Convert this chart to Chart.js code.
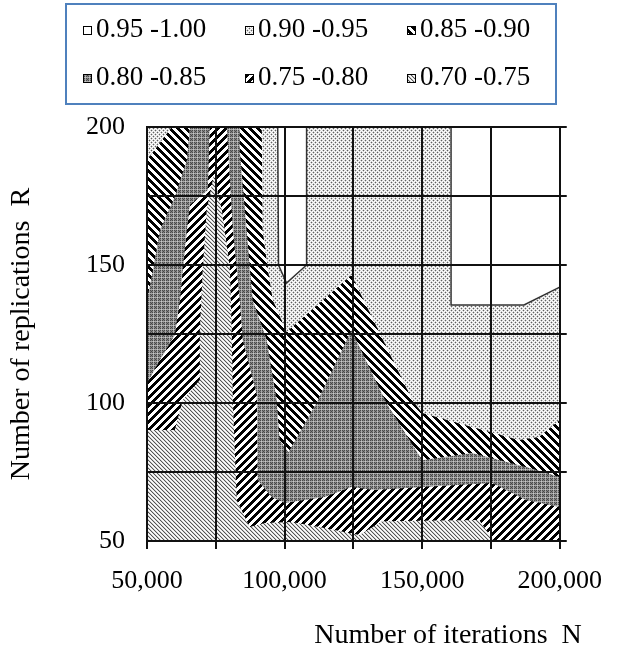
<!DOCTYPE html>
<html>
<head>
<meta charset="utf-8">
<script src="https://cdn.jsdelivr.net/npm/chart.js@4/dist/chart.umd.min.js"></script>
<style>
  html, body { margin: 0; padding: 0; background: #ffffff; }
  #c { display: block; }
</style>
</head>
<body>
<canvas id="c" width="619" height="662"></canvas>
<script>
// Coverage bands, highest first (legend order)
const bandLabels = ['0.95 -1.00', '0.90 -0.95', '0.85 -0.90', '0.80 -0.85', '0.75 -0.80', '0.70 -0.75'];

// Labelled ticks; grid lines fall every 25,000 iterations and every 25 replications
const iterationTicks = [50000, 100000, 150000, 200000];
const replicationTicks = [50, 100, 150, 200];

// Contour outlines, vertices given as [iterations N, replications R]
const domain = [[50000, 50], [200000, 50], [200000, 200], [50000, 200]];

// coverage below 0.80
const below080 = [
  [72800, 200], [79000, 200], [81200, 162.7], [83700, 137.3], [84800, 122.8],
  [89900, 102.9], [90200, 72.1], [95300, 65.9], [100000, 63.8], [114500, 65.9],
  [124300, 69.6], [132600, 68.5], [150000, 69.6], [175400, 71.0], [187700, 64.9],
  [200000, 62.3], [200000, 50], [50000, 50], [50000, 107.2], [54700, 115.6],
  [60100, 124.6], [62000, 137.3], [63000, 148.2], [64500, 162.7], [65600, 171.7],
  [72100, 177.2]
];

// coverage below 0.75
const below075 = [
  [74300, 182.6], [77200, 169.9], [80100, 149.3], [80800, 126.4], [81200, 101.1],
  [82600, 64.9], [87300, 55.1], [92800, 56.5], [102500, 56.9], [114500, 54.7],
  [127200, 52.2], [135500, 57.2], [170700, 57.6], [176100, 50], [50000, 50],
  [50000, 90.2], [60100, 90.2], [63000, 101.1], [69200, 108.3], [69200, 126.4],
  [70300, 149.3], [71700, 169.9]
];

// coverage of 0.85 and above
const above085West = [
  [50000, 200], [65600, 200], [64500, 188.0], [60100, 174.6], [54700, 162.7],
  [52200, 148.2], [50000, 137.3]
];
const above085East = [
  [83700, 200], [200000, 200], [200000, 73.2], [187700, 76.8], [168100, 81.9],
  [150000, 79.3], [137000, 100.0], [124300, 126.4], [111600, 100.0], [101400, 82.2],
  [98200, 86.6], [97100, 101.1], [93500, 122.8], [88400, 137.3], [86200, 162.7],
  [83700, 191.7]
];

// coverage of 0.90 and above
const above090West = [[50000, 200], [59000, 200], [50000, 188.0]];
const above090East = [
  [91700, 200], [200000, 200], [200000, 93.8], [192400, 87.7], [185100, 86.6],
  [168100, 91.3], [150000, 96.4], [146400, 101.1], [124300, 146.4], [100700, 125.7],
  [95700, 137.3], [93800, 149.3], [92000, 162.7]
];

// coverage of 0.95 and above
const above095Mid = [[97500, 200], [108000, 200], [108000, 150], [100700, 143.5], [97800, 150]];
const above095East = [[160500, 200], [200000, 200], [200000, 142.0], [187000, 135.5], [160500, 135.5]];

// ---------- fill patterns ----------
const canvas = document.getElementById('c');
const ctx = canvas.getContext('2d');

function makePattern(size, colorAt) {
  const tile = document.createElement('canvas');
  tile.width = size; tile.height = size;
  const t = tile.getContext('2d');
  for (let y = 0; y < size; y++) {
    for (let x = 0; x < size; x++) {
      t.fillStyle = colorAt(x, y);
      t.fillRect(x, y, 1, 1);
    }
  }
  return ctx.createPattern(tile, 'repeat');
}

const fills = [
  '#ffffff',
  // sparse dots
  makePattern(4, (x, y) => {
    if ((x === 1 && y === 0) || (x === 3 && y === 2)) return '#606060';
    return (x + y) % 2 === 0 ? '#d0d0d0' : '#ffffff';
  }),
  // wide back-slash stripes
  makePattern(8, (x, y) => ((((x - y) % 8) + 8) % 8 < 4 ? '#000000' : '#ffffff')),
  // dark plaid
  makePattern(4, (x, y) => {
    if (x === 1 && y === 1) return '#c8c8c8';
    if (x === 1 || y === 1) return '#a8a8a8';
    return (x + y) % 2 === 0 ? '#4a4a4a' : '#808080';
  }),
  // wide forward-slash stripes
  makePattern(8, (x, y) => ((x + y) % 8 < 4 ? '#000000' : '#ffffff')),
  // fine back-slash hatch
  makePattern(4, (x, y) => ['#555555', '#cccccc', '#ffffff', '#e6e6e6'][(((x - y) % 4) + 4) % 4])
];

function toPoints(outline) {
  const pts = outline.map(([n, r]) => ({ x: n, y: r }));
  pts.push({ x: outline[0][0], y: outline[0][1] });
  return pts;
}

function region(outline, band, order, edge) {
  return {
    label: bandLabels[band],
    data: toPoints(outline),
    showLine: true,
    fill: 'shape',
    tension: 0,
    pointRadius: 0,
    borderWidth: edge ? 1.5 : 0,
    borderColor: edge ? '#333333' : 'rgba(0,0,0,0)',
    backgroundColor: fills[band],
    order: order
  };
}

const datasets = [
  region(domain, 3, 6),
  region(below080, 4, 5),
  region(below075, 5, 4),
  region(above085West, 2, 3),
  region(above085East, 2, 3),
  region(above090West, 1, 2),
  region(above090East, 1, 2),
  region(above095Mid, 0, 1, true),
  region(above095East, 0, 1, true)
];

// ---------- legend and axis titles ----------
const serif = '"Liberation Serif", "Times New Roman", serif';

const bandLegend = {
  id: 'bandLegend',
  afterDraw(chart) {
    const c = chart.ctx;
    c.save();
    c.strokeStyle = '#4F81BD';
    c.lineWidth = 2;
    c.strokeRect(66, 4, 490, 100);
    c.font = '27px ' + serif;
    c.textBaseline = 'middle';
    c.textAlign = 'left';
    bandLabels.forEach((label, i) => {
      const col = i % 3, row = Math.floor(i / 3);
      const x = 83 + col * 162;
      const y = row === 0 ? 30 : 78;
      c.fillStyle = fills[i];
      c.fillRect(x, y - 4, 9, 9);
      c.strokeStyle = '#000000';
      c.lineWidth = 1;
      c.strokeRect(x + 0.5, y - 3.5, 8, 8);
      c.fillStyle = '#000000';
      c.fillText(label, x + 13, y);
    });
    c.restore();
  }
};

const axisTitles = {
  id: 'axisTitles',
  afterDraw(chart) {
    const c = chart.ctx;
    const a = chart.chartArea;
    c.save();
    c.font = '28px ' + serif;
    c.fillStyle = '#000000';
    c.textBaseline = 'middle';
    c.textAlign = 'right';
    c.fillText('Number of iterations  N', a.right + 22, 636);
    c.translate(22, (a.top + a.bottom) / 2);
    c.rotate(-Math.PI / 2);
    c.textAlign = 'center';
    c.fillText('Number of replications  R', 0, 0);
    c.restore();
  }
};

Chart.defaults.font.family = serif;
Chart.defaults.font.size = 26;
Chart.defaults.color = '#000000';

new Chart(canvas, {
  type: 'scatter',
  data: { datasets },
  options: {
    responsive: false,
    devicePixelRatio: 1,
    animation: false,
    events: [],
    layout: { padding: { top: 127, left: 0, right: 0, bottom: 0 } },
    plugins: {
      legend: { display: false },
      tooltip: { enabled: false },
      filler: { drawTime: 'beforeDatasetDraw' }
    },
    scales: {
      x: {
        type: 'linear',
        position: 'bottom',
        min: 50000,
        max: 200000,
        afterFit: (s) => { s.height = 121; },
        ticks: {
          stepSize: 25000,
          padding: 17,
          maxRotation: 0,
          autoSkip: false,
          callback: (v) => (iterationTicks.includes(v) ? v.toLocaleString('en-US') : '')
        },
        grid: { color: '#111111', lineWidth: 2, drawTicks: true, tickLength: 8, z: 1 },
        border: { color: '#111111', width: 2, z: 1 }
      },
      y: {
        type: 'linear',
        position: 'left',
        min: 50,
        max: 200,
        afterFit: (s) => { s.width = 147; },
        ticks: {
          stepSize: 25,
          padding: 22,
          autoSkip: false,
          callback: (v) => (replicationTicks.includes(v) ? String(v) : '')
        },
        grid: { color: '#111111', lineWidth: 2, drawTicks: false, z: 1 },
        border: { color: '#111111', width: 2, z: 1 }
      },
      y2: {
        type: 'linear',
        position: 'right',
        min: 50,
        max: 200,
        afterFit: (s) => { s.width = 58; },
        ticks: { stepSize: 25, display: false },
        grid: { drawOnChartArea: false, drawTicks: true, tickLength: 7, color: '#111111', lineWidth: 2, z: 1 },
        border: { color: '#111111', width: 2, z: 1 }
      }
    }
  },
  plugins: [bandLegend, axisTitles]
});
</script>
</body>
</html>
